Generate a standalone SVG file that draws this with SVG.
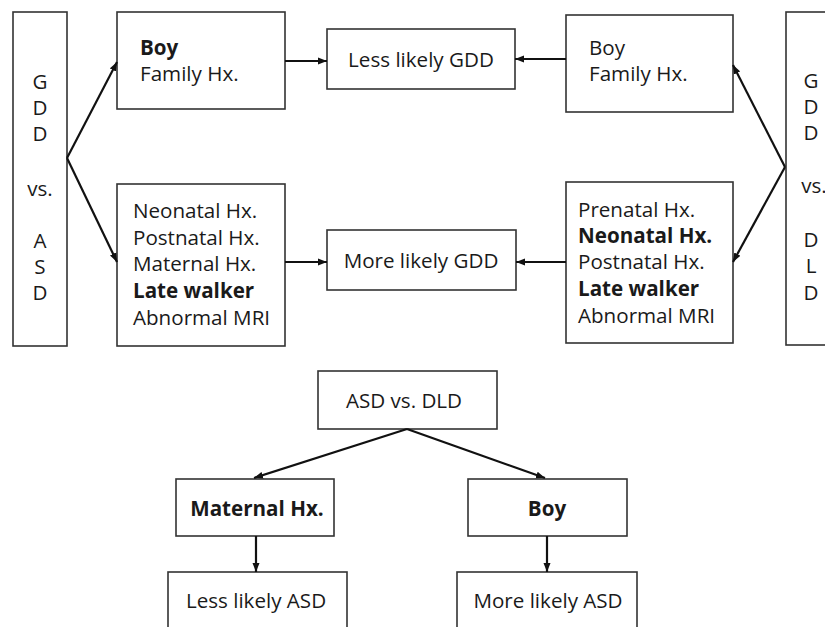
<svg xmlns="http://www.w3.org/2000/svg" width="825" height="627" viewBox="0 0 825 627">
<defs>
<style>
.box{fill:#fff;stroke:#333;stroke-width:1.6}
.t{font-family:"Open Sans","Noto Sans","Liberation Sans",sans-serif;font-size:20.6px;fill:#1a1a1a}
.b{font-weight:bold}
.m{text-anchor:middle}
.c{fill:none;stroke:#111;stroke-width:2.2}
</style>
<marker id="ah" markerUnits="userSpaceOnUse" markerWidth="10" markerHeight="8" refX="9" refY="4" orient="auto">
<path d="M0,0.5 L9,4 L0,7.5 Z" fill="#111"/>
</marker>
</defs>
<rect width="825" height="627" fill="#fff"/>
<g id="gdd-asd">
<rect class="box" x="13" y="12" width="54" height="334"/>
<text class="t m" x="40" y="89">G</text>
<text class="t m" x="40" y="115">D</text>
<text class="t m" x="40" y="141">D</text>
<text class="t m" x="40" y="196">vs.</text>
<text class="t m" x="40" y="248">A</text>
<text class="t m" x="40" y="274">S</text>
<text class="t m" x="40" y="300">D</text>
</g>
<g id="left-top">
<rect class="box" x="117" y="12" width="168" height="97"/>
<text class="t" x="140" y="55"><tspan class="b">Boy</tspan><tspan x="140" y="81">Family Hx.</tspan></text>
</g>
<g id="less-gdd">
<rect class="box" x="327" y="29" width="188" height="60"/>
<text class="t m" x="421" y="67">Less likely GDD</text>
</g>
<g id="left-bottom">
<rect class="box" x="117" y="184" width="168" height="162"/>
<text class="t" x="133" y="218">Neonatal Hx.<tspan x="133" y="245">Postnatal Hx.</tspan><tspan x="133" y="271">Maternal Hx.</tspan><tspan class="b" x="133" y="298">Late walker</tspan><tspan x="133" y="325">Abnormal MRI</tspan></text>
</g>
<g id="more-gdd">
<rect class="box" x="327" y="230" width="189" height="60"/>
<text class="t m" x="421" y="268">More likely GDD</text>
</g>
<g id="right-top">
<rect class="box" x="566" y="15" width="167" height="97"/>
<text class="t" x="589" y="55">Boy<tspan x="589" y="81">Family Hx.</tspan></text>
</g>
<g id="right-bottom">
<rect class="box" x="566" y="182" width="167" height="161"/>
<text class="t" x="578" y="217">Prenatal Hx.<tspan class="b" x="578" y="243">Neonatal Hx.</tspan><tspan x="578" y="269">Postnatal Hx.</tspan><tspan class="b" x="578" y="296">Late walker</tspan><tspan x="578" y="323">Abnormal MRI</tspan></text>
</g>
<g id="gdd-dld">
<rect class="box" x="786" y="12" width="54" height="333"/>
<text class="t m" x="811" y="88">G</text>
<text class="t m" x="811" y="114">D</text>
<text class="t m" x="811" y="140">D</text>
<text class="t m" x="814" y="193">vs.</text>
<text class="t m" x="811" y="247">D</text>
<text class="t m" x="811" y="273">L</text>
<text class="t m" x="811" y="300">D</text>
</g>
<g id="asd-dld">
<rect class="box" x="318" y="371" width="179" height="58"/>
<text class="t m" x="404" y="408">ASD vs. DLD</text>
</g>
<g id="maternal">
<rect class="box" x="176" y="479" width="158" height="57"/>
<text class="t m b" x="257" y="516">Maternal Hx.</text>
</g>
<g id="boy">
<rect class="box" x="468" y="479" width="159" height="57"/>
<text class="t m b" x="547" y="516">Boy</text>
</g>
<g id="less-asd">
<rect class="box" x="168" y="572" width="179" height="70"/>
<text class="t m" x="256" y="608">Less likely ASD</text>
</g>
<g id="more-asd">
<rect class="box" x="457" y="572" width="180" height="70"/>
<text class="t m" x="548" y="608">More likely ASD</text>
</g>
<g id="connectors">
<path class="c" d="M67,158 L117,62" marker-end="url(#ah)"/>
<path class="c" d="M67,158 L117,262" marker-end="url(#ah)"/>
<path class="c" d="M285,61 L327,61" marker-end="url(#ah)"/>
<path class="c" d="M285,262 L327,262" marker-end="url(#ah)"/>
<path class="c" d="M566,59 L515,59" marker-end="url(#ah)"/>
<path class="c" d="M566,262 L516,262" marker-end="url(#ah)"/>
<path class="c" d="M785,167 L733,65" marker-end="url(#ah)"/>
<path class="c" d="M785,167 L733,262" marker-end="url(#ah)"/>
<path class="c" d="M407,429 L254,478" marker-end="url(#ah)"/>
<path class="c" d="M407,429 L545,478" marker-end="url(#ah)"/>
<path class="c" d="M256,536 L256,572" marker-end="url(#ah)"/>
<path class="c" d="M547,536 L547,572" marker-end="url(#ah)"/>
</g>
</svg>
